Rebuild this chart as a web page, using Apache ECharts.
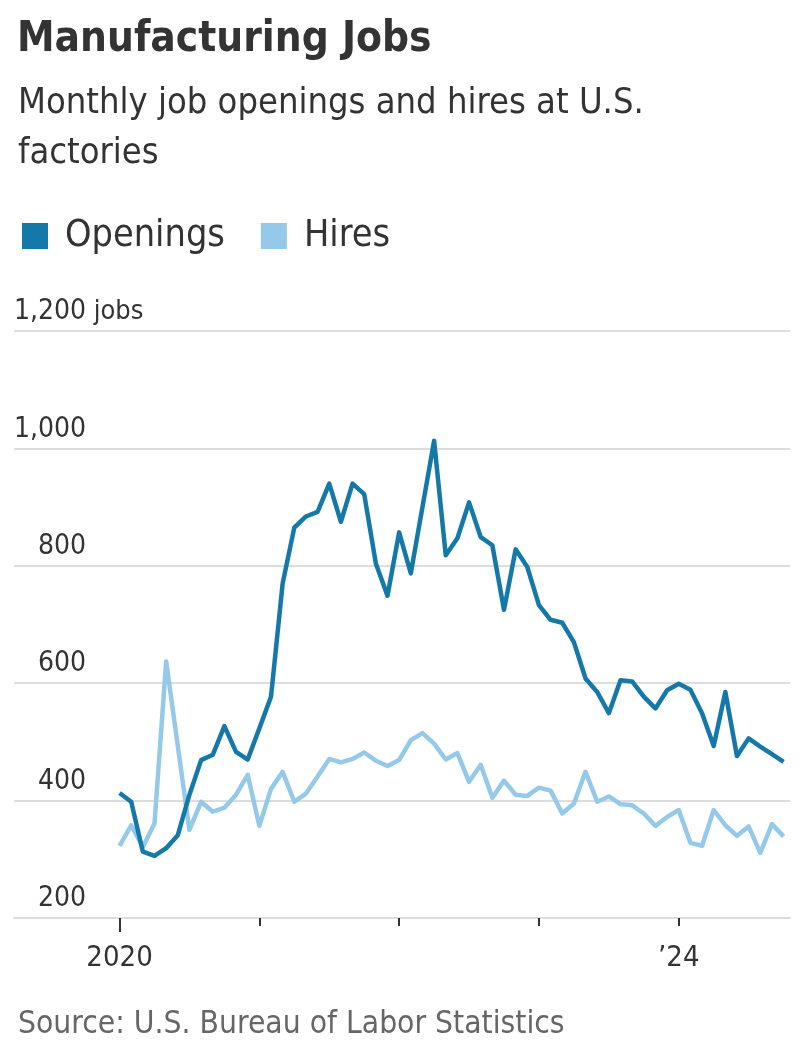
<!DOCTYPE html>
<html lang="en">
<head>
<meta charset="UTF-8">
<title>Manufacturing Jobs</title>
<script src="https://cdn.jsdelivr.net/npm/echarts@6/dist/echarts.min.js"></script>
<style>
  html, body { margin: 0; padding: 0; background: #fff; }
  #chart { width: 799px; height: 1064px; }
</style>
</head>
<body>
<div id="chart"></div>
<script>
// monthly values, Jan 2020 .. Oct 2024 (thousands)
var openings = [
  413, 398, 313, 306, 319, 341, 410, 469, 478, 527, 483, 470,
  523, 577, 770, 865, 884, 892, 940, 875, 940, 922, 804, 749,
  857, 787, 900, 1013, 818, 847, 908, 849, 835, 725, 828, 798,
  733, 708, 703, 670, 608, 585, 549, 605, 603, 577, 557, 588,
  599, 589, 549, 493, 585, 476, 506, 492, 479, 466
];
var hires = [
  323, 358, 321, 361, 637, 493, 350, 398, 381, 388, 410, 444,
  357, 420, 449, 398, 412, 441, 471, 465, 471, 482, 468, 459,
  469, 503, 515, 497, 470, 481, 432, 461, 405, 434, 410, 408,
  422, 417, 378, 395, 449, 398, 407, 394, 392, 378, 357, 372,
  384, 328, 323, 384, 358, 340, 356, 311, 360, 339
];
// x is months since Jan 2020
var yearTicks = [0, 12, 24, 36, 48];
var yearLabels = { 0: '2020', 48: '\u201924' };

var font = "'Liberation Sans Narrow', 'DejaVu Sans Condensed', Roboto, sans-serif";
var dark = '#1479a8';
var light = '#95c9ea';

function toPoints(arr) {
  var out = [];
  for (var i = 0; i < arr.length; i++) out.push([i, arr[i]]);
  return out;
}

var chart = echarts.init(document.getElementById('chart'));
var option = {
  animation: false,
  backgroundColor: '#fff',
  textStyle: { fontFamily: font },
  title: [
    {
      text: 'Manufacturing Jobs', left: 12, top: 14,
      textStyle: { fontFamily: font, fontWeight: 'bold', fontSize: 42, color: '#333' }
    },
    {
      text: 'Monthly job openings and hires at U.S.\nfactories', left: 13, top: 74,
      textStyle: { fontFamily: font, fontWeight: 'normal', fontSize: 36, lineHeight: 50, color: '#333' }
    },
    {
      text: 'Source: U.S. Bureau of Labor Statistics', left: 13, top: 1004,
      textStyle: { fontFamily: font, fontWeight: 'normal', fontSize: 31.5, color: '#666' }
    }
  ],
  legend: {
    left: 17, top: 212,
    icon: 'rect', itemWidth: 26, itemHeight: 26, itemGap: 36,
    selectedMode: false,
    textStyle: { fontFamily: font, fontSize: 37.5, color: '#333', padding: [0, 0, 0, 12] },
    data: ['Openings', 'Hires']
  },
  grid: { left: 14, right: 9, top: 331, bottom: 146 },
  xAxis: [
    {
      type: 'value', min: -9.06, max: 57.55,
      axisLine: { lineStyle: { color: '#dddddd', width: 2 } },
      splitLine: { show: false },
      axisTick: { customValues: yearTicks, length: 8, lineStyle: { color: '#333', width: 2 } },
      axisLabel: {
        customValues: [0, 48], margin: 26,
        fontFamily: font, fontSize: 29, color: '#333',
        formatter: function (v) { return yearLabels[v] || ''; }
      }
    },
    {
      type: 'value', position: 'bottom', min: -9.06, max: 57.55,
      axisLine: { show: false },
      splitLine: { show: false },
      axisTick: { customValues: [0], length: 14, lineStyle: { color: '#333', width: 2 } },
      axisLabel: { show: false }
    }
  ],
  yAxis: {
    type: 'value', min: 200, max: 1200, interval: 200,
    axisLine: { show: false },
    axisTick: { show: false },
    splitLine: { lineStyle: { color: '#dddddd', width: 2 } },
    axisLabel: {
      inside: true, margin: 0, align: 'left', verticalAlign: 'bottom',
      padding: [0, 0, 5, 0],
      formatter: function (v) {
        var s = v.toLocaleString('en-US');
        return v === 1200 ? '{n|' + s + '}{u| jobs}' : '{n|' + s + '}';
      },
      rich: {
        n: { width: 72, align: 'right', fontFamily: font, fontSize: 28, color: '#333' },
        u: { fontFamily: font, fontSize: 27, color: '#333' }
      }
    }
  },
  series: [
    {
      name: 'Hires', type: 'line', data: toPoints(hires),
      showSymbol: false, color: light,
      lineStyle: { width: 4.5, color: light, join: 'round' }
    },
    {
      name: 'Openings', type: 'line', data: toPoints(openings),
      showSymbol: false, color: dark,
      lineStyle: { width: 4.5, color: dark, join: 'round' }
    }
  ]
};
chart.setOption(option);
</script>
</body>
</html>
